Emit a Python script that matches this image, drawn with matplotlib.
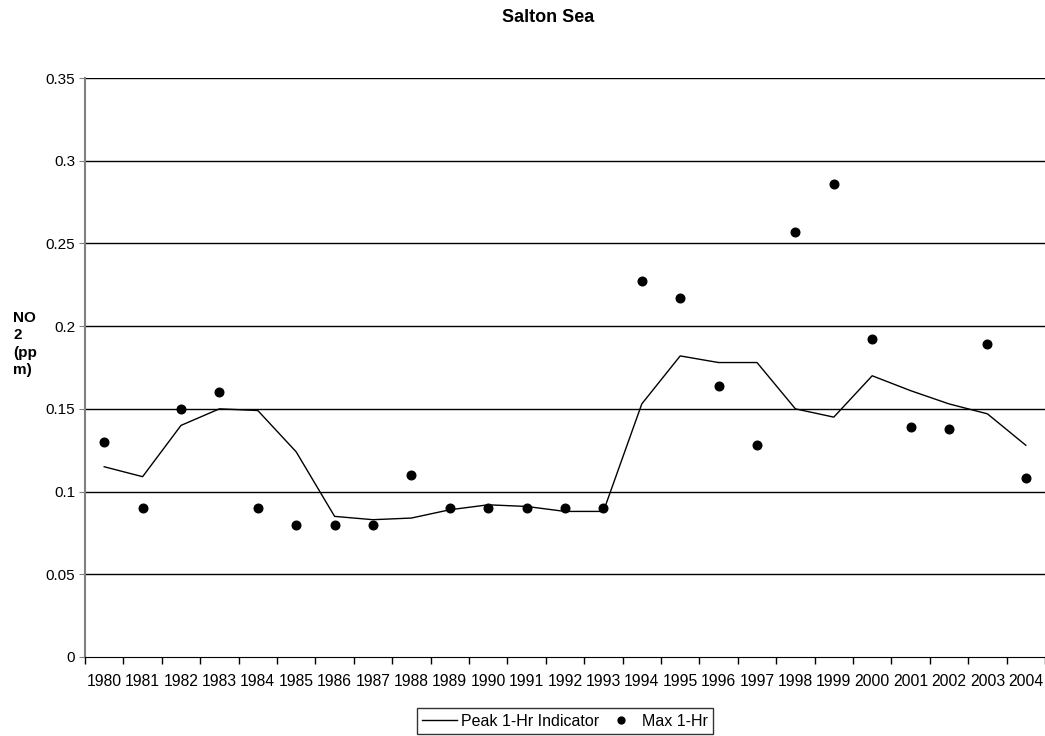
import matplotlib
matplotlib.use('Agg')
import matplotlib.pyplot as plt
from matplotlib.ticker import FixedLocator

years = [str(y) for y in range(1980, 2005)]

# Peak 1-Hr Indicator (line)
peak_indicator = [0.115, 0.109, 0.140, 0.150, 0.149, 0.124, 0.085, 0.083, 0.084, 0.089,
                  0.092, 0.091, 0.088, 0.088, 0.153, 0.182, 0.178, 0.178, 0.150, 0.145,
                  0.170, 0.161, 0.153, 0.147, 0.128]

# Max 1-Hr (dots)
max_1hr = [0.130, 0.090, 0.150, 0.160, 0.090, 0.080, 0.080, 0.080, 0.110, 0.090,
           0.090, 0.090, 0.090, 0.090, 0.227, 0.217, 0.164, 0.128, 0.257, 0.286,
           0.192, 0.139, 0.138, 0.189, 0.108]

yticks = [0, 0.05, 0.1, 0.15, 0.2, 0.25, 0.3, 0.35]
ytick_labels = ['0', '0.05', '0.1', '0.15', '0.2', '0.25', '0.3', '0.35']

plt.rcParams['font.family'] = ['Liberation Sans', 'DejaVu Sans']

fig = plt.figure(figsize=(10.45, 7.36), dpi=100)
ax = fig.add_axes([85 / 1045, 1 - 657 / 736, 1 - 85 / 1045, (657 - 78) / 736])

x = list(range(len(years)))
ax.plot(x, peak_indicator, color='black', lw=1.0, label='Peak 1-Hr Indicator', zorder=3)
ax.plot(x, max_1hr, 'o', color='black', ms=6.2, label='Max 1-Hr', zorder=4)

ax.set_xlim(-0.5, len(years) - 0.5)
ax.set_ylim(0, 0.35)
ax.set_yticks(yticks)
ax.set_yticklabels(ytick_labels, fontsize=11)
ax.set_xticks(x)
ax.set_xticklabels(years, fontsize=11.3)
ax.tick_params(axis='x', length=0, pad=12)
ax.xaxis.set_minor_locator(FixedLocator([i - 0.5 for i in range(len(years) + 1)]))
ax.tick_params(axis='x', which='minor', length=5, color='black', width=1)
ax.tick_params(axis='y', length=4, color='#808080', pad=3)

for yv in yticks[1:]:
    ax.axhline(yv, color='black', lw=1.0, zorder=1)

ax.spines['top'].set_visible(False)
ax.spines['right'].set_visible(False)
ax.spines['left'].set_color('#808080')
ax.spines['left'].set_linewidth(1.5)
ax.spines['bottom'].set_color('black')

fig.text(548 / 1045, 1 - 18 / 736, 'Salton Sea', ha='center', va='center',
         fontsize=13, fontweight='bold')
fig.text(13 / 1045, 1 - 344 / 736, 'NO\n2\n(pp\nm)', ha='left', va='center',
         fontsize=11, fontweight='bold', linespacing=1.3)

leg = ax.legend(loc='upper center', bbox_to_anchor=(0.5, -0.088), ncol=2,
                frameon=True, fancybox=False, fontsize=11.5, handlelength=2.2,
                borderpad=0.35, borderaxespad=0, columnspacing=0.3,
                handletextpad=0.2, markerscale=0.8)
leg.get_frame().set_edgecolor('black')
leg.get_frame().set_linewidth(1.0)

fig.savefig('out.png', dpi=100)
